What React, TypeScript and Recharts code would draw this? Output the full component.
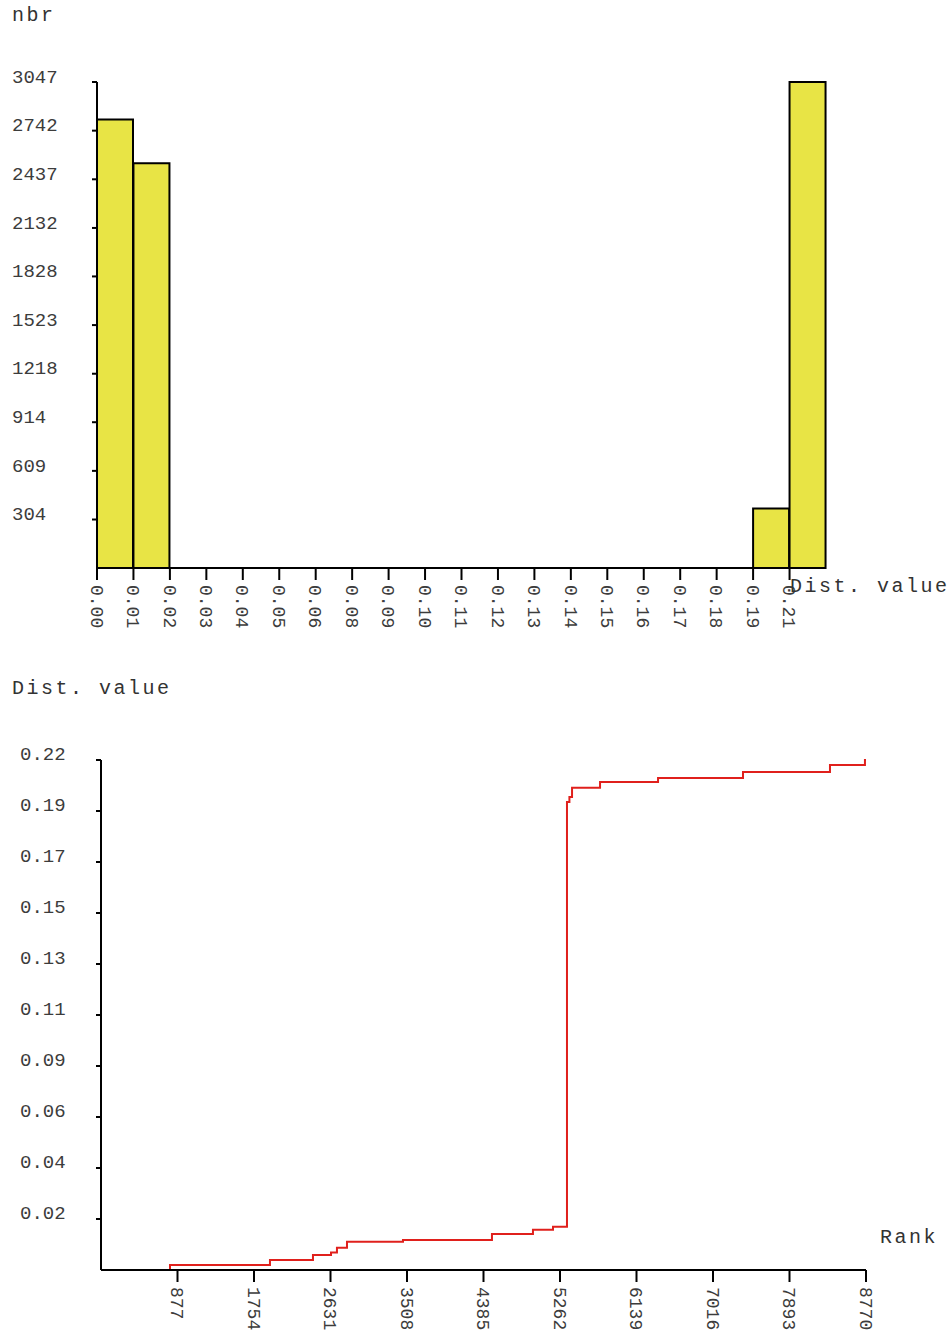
import React from 'react';
import { BarChart, Bar, LineChart, Line, XAxis, YAxis } from 'recharts';

// histogram: 20 bins of distance value
const binLabels = ['0.00', '0.01', '0.02', '0.03', '0.04', '0.05', '0.06', '0.08', '0.09', '0.10',
  '0.11', '0.12', '0.13', '0.14', '0.15', '0.16', '0.17', '0.18', '0.19', '0.21'];
const binCounts = [2812, 2538, 0, 0, 0, 0, 0, 0, 0, 0, 0, 0, 0, 0, 0, 0, 0, 0, 373, 3047];
const countTicks = [304, 609, 914, 1218, 1523, 1828, 2132, 2437, 2742, 3047];

// sorted distance values by rank
const rankPoints = [0, 791, 1937, 2430, 2637, 2705, 2820, 3462, 4482, 4952, 5182, 5342, 5370, 5400, 5721, 6386, 7360, 8357, 8758, 8770];
const distPoints = [0, 0.0022, 0.0043, 0.0065, 0.0075, 0.0096, 0.0122, 0.0129, 0.0155, 0.0174, 0.0187, 0.2019, 0.204, 0.208, 0.2105, 0.2122, 0.2148, 0.2178, 0.22, 0.22];
const rankTicks = [877, 1754, 2631, 3508, 4385, 5262, 6139, 7016, 7893, 8770];
const distTicks = [0.022, 0.044, 0.066, 0.088, 0.11, 0.132, 0.154, 0.176, 0.198, 0.22];
const distTickLabels = ['0.02', '0.04', '0.06', '0.09', '0.11', '0.13', '0.15', '0.17', '0.19', '0.22'];

const histData = binCounts.map((n, i) => ({ bin: i + 0.5, n }));
const lineData = rankPoints.map((r, i) => ({ rank: r, dist: distPoints[i] }));

const FONT = '"Liberation Mono", "DejaVu Sans Mono", monospace';
const tickColor = '#3c3c3c';

const RotTick = (props: any) => {
  const { x, y, payload, fmt } = props;
  return (
    <text
      transform={`translate(${x},${y + 3}) rotate(90)`}
      x={0}
      y={0}
      dy="0.35em"
      textAnchor="start"
      fontFamily={FONT}
      fontSize={18}
      fill={tickColor}
    >
      {fmt(payload.value)}
    </text>
  );
};

const LeftTick = (props: any) => {
  const { y, payload, fmt, left, up } = props;
  return (
    <text x={left} y={y - up} dy="0.35em" textAnchor="start" fontFamily={FONT} fontSize={19} fill={tickColor}>
      {fmt(payload.value)}
    </text>
  );
};

const title: React.CSSProperties = {
  position: 'absolute',
  fontFamily: FONT,
  fontSize: 20,
  letterSpacing: 2.5,
  color: '#333',
  lineHeight: '20px',
  whiteSpace: 'nowrap',
};

export default function App() {
  return (
    <div style={{ position: 'absolute', left: 0, top: 0, width: 952, height: 1333, background: '#fff' }}>
      <div style={{ position: 'absolute', left: 0, top: 0 }}>
        <BarChart
          width={952}
          height={640}
          data={histData}
          margin={{ top: 82, right: 126, bottom: 12, left: 37 }}
          barCategoryGap={0}
          barGap={0}
        >
          <XAxis
            type="number"
            dataKey="bin"
            domain={[0, 20]}
            ticks={binLabels.map((_, i) => i)}
            interval={0}
            height={60}
            tickSize={12}
            axisLine={{ stroke: '#000', strokeWidth: 2 }}
            tickLine={{ stroke: '#000', strokeWidth: 2 }}
            tick={<RotTick fmt={(v: number) => binLabels[v]} />}
          />
          <YAxis
            type="number"
            domain={[0, 3047]}
            ticks={countTicks}
            interval={0}
            width={60}
            tickSize={5}
            axisLine={{ stroke: '#000', strokeWidth: 2 }}
            tickLine={{ stroke: '#000', strokeWidth: 2 }}
            tick={<LeftTick fmt={(v: number) => String(v)} left={12} up={6} />}
          />
          <Bar dataKey="n" fill="#e8e445" stroke="#000" strokeWidth={2} barSize={36} isAnimationActive={false} />
        </BarChart>
      </div>
      <div style={{ ...title, left: 12, top: 6 }}>nbr</div>
      <div style={{ ...title, left: 790, top: 577 }}>Dist. value</div>

      <div style={{ position: 'absolute', left: 0, top: 700 }}>
        <LineChart width={952} height={633} data={lineData} margin={{ top: 60, right: 86, bottom: 8, left: 41 }}>
          <XAxis
            type="number"
            dataKey="rank"
            domain={[0, 8770]}
            ticks={rankTicks}
            interval={0}
            height={55}
            tickSize={12}
            axisLine={{ stroke: '#000', strokeWidth: 2 }}
            tickLine={{ stroke: '#000', strokeWidth: 2 }}
            tick={<RotTick fmt={(v: number) => String(v)} />}
          />
          <YAxis
            type="number"
            domain={[0, 0.22]}
            ticks={distTicks}
            interval={0}
            width={60}
            tickSize={5}
            axisLine={{ stroke: '#000', strokeWidth: 2 }}
            tickLine={{ stroke: '#000', strokeWidth: 2 }}
            tick={<LeftTick fmt={(v: number) => distTickLabels[distTicks.indexOf(v)]} left={20} up={7} />}
          />
          <Line type="stepAfter" dataKey="dist" stroke="#e0201c" strokeWidth={2} dot={false} isAnimationActive={false} />
        </LineChart>
      </div>
      <div style={{ ...title, left: 12, top: 679 }}>Dist. value</div>
      <div style={{ ...title, left: 880, top: 1228 }}>Rank</div>
    </div>
  );
}
